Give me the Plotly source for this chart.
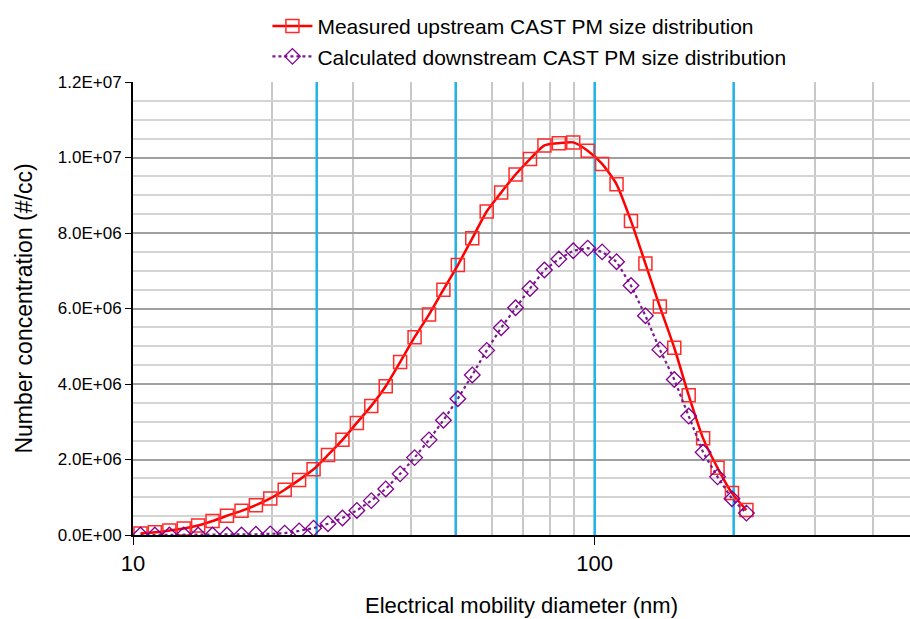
import plotly.graph_objects as go

# Electrical mobility diameter (nm), one point per 1/32 decade
diameters = [10.38, 11.15, 11.99, 12.88, 13.84, 14.87, 15.98, 17.18, 18.46, 19.83,
             21.31, 22.90, 24.61, 26.45, 28.42, 30.54, 32.82, 35.27, 37.90, 40.73,
             43.77, 47.03, 50.54, 54.31, 58.36, 62.72, 67.40, 72.42, 77.83, 83.63,
             89.87, 96.58, 103.78, 111.53, 119.85, 128.79, 138.40, 148.73, 159.82, 171.75,
             184.56, 198.33, 213.13]

# Number concentration (#/cc), millions
upstream_e6 = [0.04, 0.07, 0.12, 0.17, 0.25, 0.37, 0.51, 0.64, 0.79, 0.97,
               1.20, 1.46, 1.74, 2.12, 2.52, 2.97, 3.42, 3.94, 4.58, 5.24,
               5.84, 6.50, 7.15, 7.86, 8.57, 9.07, 9.55, 9.96, 10.32, 10.38,
               10.40, 10.18, 9.83, 9.29, 8.32, 7.19, 6.05, 4.96, 3.70, 2.56,
               1.78, 1.11, 0.66]
downstream_e6 = [0.0, 0.0, 0.0, 0.0, 0.0, 0.0, 0.0, 0.0, 0.02, 0.03,
                 0.05, 0.11, 0.18, 0.30, 0.45, 0.65, 0.91, 1.22, 1.62, 2.05,
                 2.52, 3.04, 3.61, 4.24, 4.89, 5.49, 6.02, 6.53, 7.02, 7.31,
                 7.53, 7.60, 7.50, 7.24, 6.61, 5.81, 4.91, 4.12, 3.15, 2.19,
                 1.54, 0.96, 0.58]

upstream = [v * 1e6 for v in upstream_e6]
downstream = [v * 1e6 for v in downstream_e6]

# Reference (vertical) lines, nm
ref_lines = [25, 50, 100, 200]

y_ticks = [0, 2e6, 4e6, 6e6, 8e6, 1e7, 1.2e7]
y_ticktext = ["0.0E+00", "2.0E+06", "4.0E+06", "6.0E+06", "8.0E+06", "1.0E+07", "1.2E+07"]
x_ticks = [10, 100]
x_ticktext = ["10", "100"]
x_minor = [20, 30, 40, 50, 60, 70, 80, 90, 200, 300, 400]

FONT = "Liberation Sans, Arial, sans-serif"
Y_MAX = 1.2e7

fig = go.Figure()

for xv in ref_lines:
    fig.add_trace(go.Scatter(
        x=[xv, xv], y=[0, Y_MAX], mode="lines",
        line=dict(color="#1FB3E8", width=2.5),
        showlegend=False, hoverinfo="skip"))

fig.add_trace(go.Scatter(
    x=diameters, y=upstream, mode="lines+markers",
    name="Measured upstream CAST PM size distribution",
    line=dict(color="#FF0000", width=2.5, shape="spline", smoothing=0.6),
    marker=dict(symbol="square-open", size=13, color="#FF2A2A", line=dict(width=1.5))))

fig.add_trace(go.Scatter(
    x=diameters, y=downstream, mode="lines+markers",
    name="Calculated downstream CAST PM size distribution",
    line=dict(color="#7B1A8C", width=2.2, dash="dot"),
    marker=dict(symbol="diamond-open", size=12, color="#800090", line=dict(width=1.3))))

fig.update_layout(
    width=910, height=619,
    margin=dict(l=133, r=0, t=82, b=84),
    paper_bgcolor="white", plot_bgcolor="white",
    font=dict(family=FONT, color="black"),
    legend=dict(
        x=0.173, y=1.168, xanchor="left", yanchor="top",
        font=dict(size=21, family=FONT), itemwidth=40,
        bgcolor="rgba(0,0,0,0)", tracegroupgap=0),
    xaxis=dict(
        type="log", range=[1, 2.683],
        tickvals=x_ticks, ticktext=x_ticktext,
        tickfont=dict(size=22), ticks="outside", ticklen=8, tickcolor="black",
        showgrid=True, gridcolor="#C8C8C8", gridwidth=1.5,
        minor=dict(tickvals=x_minor, showgrid=True, gridcolor="#C8C8C8", gridwidth=1.5, ticks=""),
        showline=True, linecolor="black", linewidth=2,
        title=dict(text="Electrical mobility diameter (nm)", font=dict(size=22), standoff=22),
        automargin=False, zeroline=False),
    yaxis=dict(
        range=[0, Y_MAX],
        tickvals=y_ticks, ticktext=y_ticktext,
        tickfont=dict(size=17), ticks="outside", ticklen=6, tickcolor="black",
        showgrid=True, gridcolor="#A0A0A0", gridwidth=1.5,
        minor=dict(dtick=5e5, showgrid=True, gridcolor="#D4D4D4", gridwidth=1.5, ticks=""),
        showline=True, linecolor="black", linewidth=2,
        title=dict(text="Number concentration (#/cc)", font=dict(size=23), standoff=19),
        automargin=False, zeroline=False),
)

fig.write_html("out.html", config={"displayModeBar": False},
               post_script="document.body.style.margin='0px';")
